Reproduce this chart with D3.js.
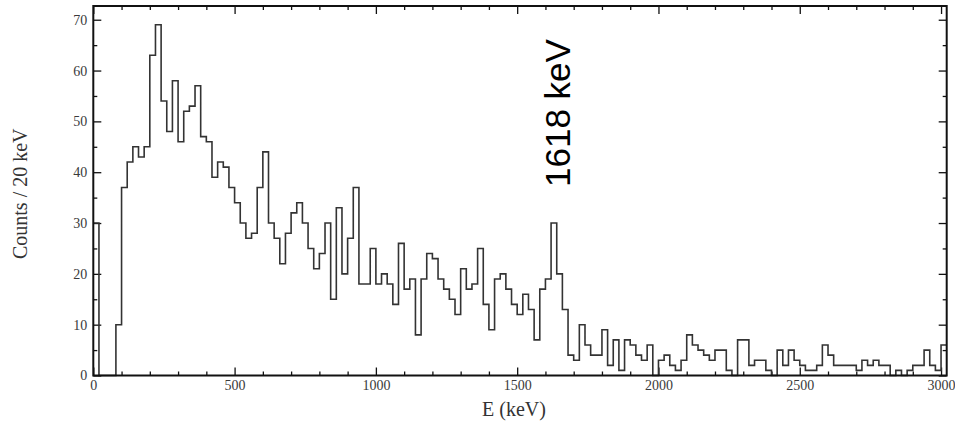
<!DOCTYPE html>
<html>
<head>
<meta charset="utf-8">
<script src="https://cdn.jsdelivr.net/npm/d3@7/dist/d3.min.js"></script>
<style>
  html, body { margin: 0; padding: 0; background: #fff; }
  svg { display: block; }
</style>
</head>
<body>
<svg id="chart" width="955" height="428"></svg>
<script>
// ---- data ----
const binWidth = 20; // keV
// counts per 20 keV bin, starting at 0 keV (last bin is 3000-3020 keV)
const counts = [
  30, 0, 0, 0, 10, 37, 42, 45, 43, 45,
  63, 69, 54, 48, 58, 46, 52, 53, 57, 47,
  46, 39, 42, 41, 37, 34, 30, 27, 28, 37,
  44, 30, 27, 22, 28, 32, 34, 30, 25, 21,
  24, 30, 15, 33, 20, 27, 37, 18, 18, 25,
  18, 20, 18, 14, 26, 17, 19, 8, 19, 24,
  23, 19, 17, 15, 12, 21, 17, 18, 25, 14,
  9, 19, 20, 17, 14, 12, 16, 13, 7, 17,
  19, 30, 20, 13, 4, 3, 10, 6, 4, 4,
  9, 2, 7, 1, 7, 6, 4, 3, 6, 0,
  3, 4, 2, 1, 3, 8, 6, 5, 4, 3,
  5, 5, 1, 0, 7, 7, 2, 3, 3, 1,
  0, 5, 2, 5, 3, 2, 1, 1, 2, 6,
  4, 2, 2, 2, 2, 1, 3, 2, 3, 2,
  2, 0, 1, 0, 1, 2, 2, 5, 2, 1,
  6
];
const xTicksMajor = [0, 500, 1000, 1500, 2000, 2500, 3000];
const yTicksMajor = [0, 10, 20, 30, 40, 50, 60, 70];
const xTitle = "E (keV)";
const yTitle = "Counts / 20 keV";
const annotation = { text: "1618 keV", energy: 1618 };

// ---- layout ----
const L = 93.3, R = 946.7, T = 6, B = 375.5;
const x = d3.scaleLinear().domain([0, 3020]).range([L, R]);
const y = d3.scaleLinear().domain([0, 72.7]).range([B, T]);

const svg = d3.select("#chart");
const serif = "'Liberation Serif', 'Times New Roman', serif";

const xMinor = d3.range(0, 3001, 100).filter(v => v % 500 !== 0);
const yMinor = d3.range(5, 71, 10);

function styleAxis(g) {
  g.select(".domain").remove();
  g.selectAll(".tick line").attr("stroke", "#111").attr("stroke-width", 1.3);
  g.selectAll(".tick text").attr("fill", "#3a3a3a").style("font-family", serif).style("font-size", "14px");
}

// bottom
svg.append("g").attr("transform", `translate(0,${B})`)
  .call(d3.axisBottom(x).tickValues(xTicksMajor).tickFormat(d3.format("d")).tickSize(-8).tickPadding(5))
  .call(styleAxis);
svg.append("g").attr("transform", `translate(0,${B})`)
  .call(d3.axisBottom(x).tickValues(xMinor).tickFormat("").tickSize(-4))
  .call(styleAxis);
// top
svg.append("g").attr("transform", `translate(0,${T})`)
  .call(d3.axisTop(x).tickValues(xTicksMajor).tickFormat("").tickSize(-8))
  .call(styleAxis);
svg.append("g").attr("transform", `translate(0,${T})`)
  .call(d3.axisTop(x).tickValues(xMinor).tickFormat("").tickSize(-4))
  .call(styleAxis);
// left
svg.append("g").attr("transform", `translate(${L},0)`)
  .call(d3.axisLeft(y).tickValues(yTicksMajor).tickFormat(d3.format("d")).tickSize(-8).tickPadding(6))
  .call(styleAxis);
svg.append("g").attr("transform", `translate(${L},0)`)
  .call(d3.axisLeft(y).tickValues(yMinor).tickFormat("").tickSize(-4))
  .call(styleAxis);
// right
svg.append("g").attr("transform", `translate(${R},0)`)
  .call(d3.axisRight(y).tickValues(yTicksMajor).tickFormat("").tickSize(-8))
  .call(styleAxis);
svg.append("g").attr("transform", `translate(${R},0)`)
  .call(d3.axisRight(y).tickValues(yMinor).tickFormat("").tickSize(-4))
  .call(styleAxis);

// histogram
const pts = counts.map((c, i) => [i * binWidth, c]);
pts.push([counts.length * binWidth, counts[counts.length - 1]]);
const line = d3.line().x(d => x(d[0])).y(d => y(d[1])).curve(d3.curveStepAfter);
svg.append("path")
  .attr("d", line(pts))
  .attr("fill", "none")
  .attr("stroke", "#333")
  .attr("stroke-width", 1.6);

// frame
svg.append("rect")
  .attr("x", L).attr("y", T).attr("width", R - L).attr("height", B - T)
  .attr("fill", "none").attr("stroke", "#111").attr("stroke-width", 2);

// titles
svg.append("text")
  .attr("x", 514).attr("y", 416)
  .attr("text-anchor", "middle")
  .style("font-family", serif).style("font-size", "20px").attr("fill", "#333")
  .text(xTitle);
svg.append("text")
  .attr("transform", `translate(27,${(T + B) / 2 + 3}) rotate(-90)`)
  .attr("text-anchor", "middle")
  .style("font-family", serif).style("font-size", "20px").attr("fill", "#333")
  .text(yTitle);

// annotation
svg.append("text")
  .attr("transform", `translate(${x(annotation.energy) + 19},187) rotate(-90)`)
  .attr("text-anchor", "start")
  .style("font-family", "'Liberation Sans', Arial, sans-serif").style("font-size", "35px").attr("fill", "#000")
  .text(annotation.text);
</script>
</body>
</html>
